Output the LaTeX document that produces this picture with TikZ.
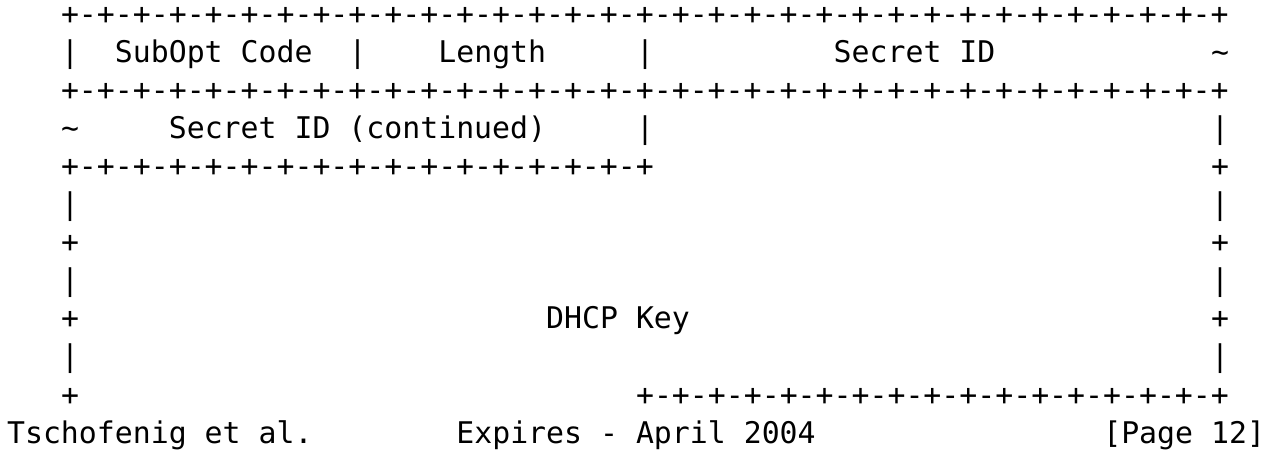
\documentclass[tikz,border=0pt]{standalone}
\usepackage{fontspec}
\setmonofont{DejaVu Sans Mono}
\newcommand{\asciifont}{\ttfamily\fontsize{14.92pt}{18pt}\selectfont}
\newcommand{\seg}{-+-+-+-+-+-+-+-+}
\tikzset{
    ascii/.style={
        anchor=base west, inner sep=0pt, outer sep=0pt,
        font=\asciifont, text=black
    },
    footer/.style={ascii}
}

\begin{document}
\begin{tikzpicture}[x=8.985pt, y=-19.025pt]
    \useasboundingbox (-0.395,-0.644) rectangle (70.50,11.209);

    % first word
    \node[ascii] (rule1) at (3,0) {+\seg\seg\seg\seg};
    \node[ascii] (barA) at (3,1) {|};
    \node[ascii] (subopt) at (6,1) {SubOpt Code};
    \node[ascii] (barB) at (19,1) {|};
    \node[ascii] (length) at (24,1) {Length};
    \node[ascii] (barC) at (35,1) {|};
    \node[ascii] (secret) at (46,1) {Secret ID};
    \node[ascii] (tildeA) at (67,1) {\textasciitilde};
    \node[ascii] (rule2) at (3,2) {+\seg\seg\seg\seg};

    % second word
    \node[ascii] (tildeB) at (3,3) {\textasciitilde};
    \node[ascii] (secretcont) at (9,3) {Secret ID (continued)};
    \node[ascii] (barD) at (35,3) {|};
    \node[ascii] (barE) at (67,3) {|};
    \node[ascii] (rule3) at (3,4) {+\seg\seg};
    \node[ascii] (plusA) at (67,4) {+};

    % key body
    \foreach \r/\ch in {5/|, 6/+, 7/|, 8/+, 9/|}{
        \node[ascii] (left\r) at (3,\r) {\ch};
        \node[ascii] (right\r) at (67,\r) {\ch};
    }
    \node[ascii] (dhcpkey) at (30,8) {DHCP Key};
    \node[ascii] (plusB) at (3,10) {+};
    \node[ascii] (rule4) at (35,10) {+\seg\seg};

    % page footer
    \node[footer] (authors) at (0,11) {Tschofenig et al.};
    \node[footer] (expires) at (25,11) {Expires - April 2004};
    \node[footer] (page) at (61,11) {[Page 12]};
\end{tikzpicture}
\end{document}
